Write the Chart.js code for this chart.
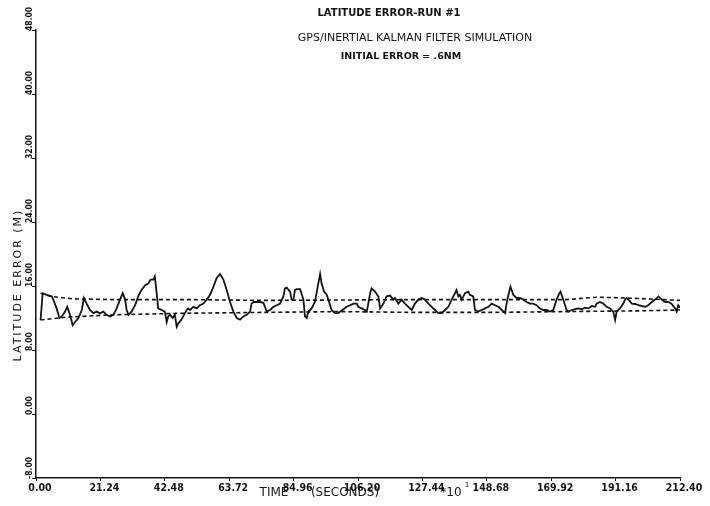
<!DOCTYPE html>
<html>
<head>
<meta charset="utf-8">
<script src="https://cdn.jsdelivr.net/npm/chart.js@4"></script>
<style>
  html, body { margin: 0; padding: 0; background: #fff; }
</style>
</head>
<body>
<canvas id="chart" width="710" height="506"></canvas>
<script>
const ink = "#141414"
const tickFont = { family: "DejaVu Sans Condensed", size: 10.5, weight: "bold" }

// ticks
const xTicks = [0, 21.24, 42.48, 63.72, 84.96, 106.20, 127.44, 148.68, 169.92, 191.16, 212.40]
const yTicks = [-8, 0, 8, 16, 24, 32, 40, 48]

// latitude error, time in seconds x10
const errTime = [
    1.5, 2.2, 3.5, 5.2, 5.7, 6.8, 7.7, 8.5, 9.6, 10.3, 11.2, 12.1, 12.9, 14.0, 15.1, 15.8, 16.7, 17.8, 18.9, 20.0,
    21.1, 22.2, 23.3, 24.4, 25.5, 26.6, 27.7, 28.6, 29.4, 29.9, 30.5, 31.5, 32.7, 33.7, 34.8, 36.0, 37.0, 37.8, 38.7, 39.2,
    39.8, 40.3, 41.4, 42.5, 43.1, 43.6, 44.2, 45.1, 45.8, 46.4, 46.9, 48.0, 49.1, 49.7, 50.2, 50.8, 51.9, 53.0, 54.1, 55.2,
    56.3, 57.4, 58.5, 59.6, 60.7, 61.8, 62.9, 64.0, 65.1, 66.2, 67.3, 68.4, 69.5, 70.6, 71.1, 71.7, 72.8, 73.9, 75.0, 76.1,
    77.2, 78.3, 79.4, 80.5, 81.6, 82.1, 82.7, 83.8, 84.3, 84.9, 85.4, 86.0, 87.1, 88.2, 88.7, 89.3, 89.8, 90.4, 90.9, 92.0,
    93.1, 93.7, 94.2, 95.0, 95.9, 96.4, 97.5, 98.6, 99.7, 100.3, 101.4, 102.5, 103.6, 104.7, 105.8, 106.3, 107.4, 108.5, 109.1, 109.6,
    110.2, 110.7, 111.8, 112.9, 113.5, 114.6, 115.6, 116.8, 117.9, 118.4, 119.5, 120.6, 121.7, 122.8, 123.9, 125.0, 126.1, 127.2, 128.3, 129.4,
    130.5, 131.6, 132.7, 133.8, 134.9, 136.0, 137.1, 138.2, 138.7, 139.3, 139.8, 140.4, 141.5, 142.6, 143.1, 144.2, 144.8, 145.9, 147.0, 148.1,
    149.2, 150.3, 151.4, 152.5, 153.6, 154.7, 155.2, 155.8, 156.5, 157.4, 158.5, 159.6, 160.7, 161.8, 162.9, 164.0, 165.1, 166.2, 167.3, 168.4,
    169.5, 170.6, 171.7, 172.6, 173.0, 173.7, 174.5, 175.0, 175.6, 176.7, 177.8, 178.9, 180.0, 181.1, 182.2, 183.3, 184.4, 184.9, 186.0, 187.1,
    188.2, 189.3, 190.4, 191.0, 191.5, 192.6, 193.7, 194.3, 194.8, 195.4, 196.5, 197.6, 198.7, 199.8, 200.9, 201.9, 203.1, 204.2, 205.3, 206.4,
    207.5, 208.6, 209.6, 210.8, 211.3, 211.8, 212.4
]
const errValues = [
    11.75, 15.1, 14.9, 14.7, 14.3, 13.2, 12.0, 12.2, 12.8, 13.4, 12.4, 11.1, 11.5, 12.0, 13.0, 14.5, 13.8, 13.0, 12.6, 12.8,
    12.6, 12.8, 12.4, 12.2, 12.4, 13.2, 14.3, 15.1, 14.3, 13.0, 12.4, 12.8, 13.6, 14.7, 15.5, 16.1, 16.3, 16.8, 16.8, 17.2,
    15.1, 13.2, 13.0, 12.8, 11.5, 12.2, 12.4, 12.0, 12.4, 10.9, 11.3, 11.8, 12.6, 13.0, 13.2, 13.0, 13.4, 13.2, 13.6, 13.8,
    14.3, 14.9, 15.9, 17.0, 17.5, 16.8, 15.5, 14.0, 12.8, 12.0, 11.8, 12.2, 12.4, 12.8, 13.8, 14.0, 14.0, 14.0, 13.9, 12.8,
    13.0, 13.4, 13.6, 13.8, 14.7, 15.7, 15.8, 15.3, 14.3, 14.3, 15.5, 15.6, 15.6, 14.3, 12.2, 12.0, 12.8, 13.0, 13.2, 14.0,
    16.3, 17.5, 16.3, 15.3, 14.9, 14.3, 13.0, 12.6, 12.6, 12.8, 13.1, 13.4, 13.6, 13.8, 13.8, 13.4, 13.2, 13.0, 12.8, 13.8,
    15.1, 15.7, 15.3, 14.7, 13.2, 13.8, 14.7, 14.8, 14.3, 14.5, 13.8, 14.3, 13.8, 13.4, 13.0, 13.8, 14.3, 14.5, 14.3, 13.8,
    13.4, 13.0, 12.6, 12.6, 13.0, 13.4, 14.3, 15.1, 15.5, 14.7, 14.9, 14.3, 15.1, 15.3, 14.9, 14.7, 13.0, 12.8, 13.0, 13.2,
    13.4, 13.8, 13.6, 13.4, 13.0, 12.6, 13.8, 14.9, 15.9, 14.9, 14.5, 14.5, 14.3, 14.0, 13.8, 13.8, 13.6, 13.2, 13.0, 13.0,
    12.8, 13.0, 14.3, 15.1, 15.3, 14.5, 13.6, 13.0, 12.8, 13.0, 13.1, 13.2, 13.1, 13.3, 13.2, 13.5, 13.4, 13.8, 14.0, 13.8,
    13.4, 13.2, 12.8, 11.75, 12.8, 13.2, 13.8, 14.3, 14.5, 14.3, 13.8, 13.75, 13.6, 13.5, 13.4, 13.6, 14.0, 14.3, 14.7, 14.3,
    14.0, 14.0, 13.8, 13.2, 12.8, 13.6, 13.3
]

// dashed envelope
const upperTime = [1.5, 5, 12, 25, 50, 75, 100, 125, 150, 175, 185, 195, 212.4]
const upperValues = [15.1, 14.7, 14.4, 14.3, 14.3, 14.2, 14.25, 14.3, 14.3, 14.3, 14.6, 14.5, 14.2]
const lowerTime = [1.5, 10, 25, 50, 75, 100, 125, 150, 175, 200, 212.4]
const lowerValues = [11.75, 12.1, 12.4, 12.6, 12.7, 12.8, 12.7, 12.7, 12.8, 12.9, 13.0]

const toPoints = (xs, ys) => xs.map((x, i) => ({ x: x, y: ys[i] }))

// titles, axis names and the rotated y tick labels
const textPlugin = {
    id: "plotText",
    afterDraw(chart) {
        const ctx = chart.ctx
        const yScale = chart.scales.y
        ctx.save()
        ctx.fillStyle = ink
        ctx.textBaseline = "middle"
        ctx.textAlign = "center"
        ctx.font = "bold 10px 'DejaVu Sans'"
        ctx.fillText("LATITUDE ERROR-RUN #1", 389, 13)
        ctx.font = "11px 'DejaVu Sans'"
        ctx.fillText("GPS/INERTIAL KALMAN FILTER SIMULATION", 415, 38)
        ctx.font = "bold 9.5px 'DejaVu Sans'"
        ctx.fillText("INITIAL ERROR = .6NM", 401, 57)

        ctx.font = "12px 'DejaVu Sans'"
        ctx.fillText("TIME", 274, 493)
        ctx.fillText("(SECONDS)", 345, 493)
        ctx.fillText("*10", 451, 493)
        ctx.font = "7px 'DejaVu Sans'"
        ctx.fillText("1", 467, 485)

        ctx.save()
        ctx.translate(18, 285)
        ctx.rotate(-Math.PI / 2)
        ctx.font = "11px 'DejaVu Sans'"
        ctx.letterSpacing = "2px"
        ctx.fillText("LATITUDE ERROR (M)", 0, 0)
        ctx.restore()

        ctx.font = "bold 8.5px 'DejaVu Sans Condensed'"
        ctx.textAlign = "left"
        yScale.ticks.forEach((t) => {
            const py = yScale.getPixelForValue(t.value)
            ctx.save()
            ctx.translate(30, py + 1)
            ctx.rotate(-Math.PI / 2)
            ctx.fillText(t.value.toFixed(2), 0, 0)
            ctx.restore()
        })
        ctx.restore()
    }
}

const myChart = new Chart(document.querySelector("#chart"), {
    type: "line",
    data: {
        datasets: [
            {
                data: toPoints(upperTime, upperValues),
                borderColor: ink,
                borderWidth: 1.6,
                borderDash: [4, 3],
                pointRadius: 0
            },
            {
                data: toPoints(lowerTime, lowerValues),
                borderColor: ink,
                borderWidth: 1.6,
                borderDash: [4, 3],
                pointRadius: 0
            },
            {
                data: toPoints(errTime, errValues),
                borderColor: ink,
                borderWidth: 1.8,
                pointRadius: 0
            }
        ]
    },
    options: {
        responsive: false,
        animation: false,
        layout: { padding: { left: 29, right: 30, top: 30, bottom: 8 } },
        plugins: { legend: { display: false }, tooltip: { enabled: false }, title: { display: false } },
        scales: {
            x: {
                type: "linear",
                min: 0,
                max: 212.4,
                afterBuildTicks: (s) => { s.ticks = xTicks.map((v) => ({ value: v })) },
                afterFit: (s) => { s.height = 20 },
                ticks: {
                    callback: (v) => Number(v).toFixed(2),
                    color: ink,
                    font: tickFont,
                    padding: 1,
                    labelOffset: 4,
                    maxRotation: 0,
                    autoSkip: false
                },
                grid: { drawOnChartArea: false, drawTicks: true, tickLength: 3, color: ink },
                border: { color: ink, width: 1.5 }
            },
            y: {
                min: -8,
                max: 48,
                afterBuildTicks: (s) => { s.ticks = yTicks.map((v) => ({ value: v })) },
                afterFit: (s) => { s.width = 7 },
                ticks: { display: false },
                grid: { drawOnChartArea: false, drawTicks: true, tickLength: 4, color: ink },
                border: { color: ink, width: 1.5 }
            }
        }
    },
    plugins: [textPlugin]
})
</script>
</body>
</html>
